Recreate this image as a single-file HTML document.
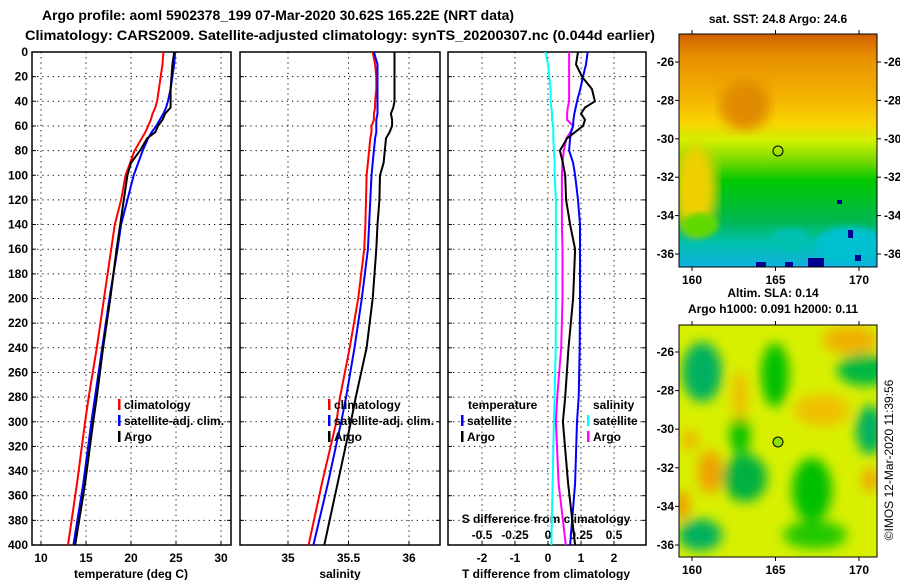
<!DOCTYPE html>
<html><head><meta charset="utf-8"><style>
html,body{margin:0;padding:0;background:#fff;}
svg{display:block;font-family:"Liberation Sans",Arial,sans-serif;}
</style></head><body>
<svg id="fig" width="900" height="580" viewBox="0 0 900 580">
<defs>
<linearGradient id="sstg" x1="0" y1="0" x2="0" y2="1">
<stop offset="0" stop-color="#d06000"/><stop offset="0.1" stop-color="#e89000"/>
<stop offset="0.28" stop-color="#f4b400"/><stop offset="0.38" stop-color="#f8d400"/>
<stop offset="0.46" stop-color="#d0f000"/><stop offset="0.55" stop-color="#70d800"/>
<stop offset="0.63" stop-color="#00c800"/><stop offset="0.8" stop-color="#00b850"/>
<stop offset="0.9" stop-color="#00c0b0"/><stop offset="1" stop-color="#10b0e0"/>
</linearGradient>
<filter id="bl"><feGaussianBlur stdDeviation="6"/></filter>
<filter id="bl2"><feGaussianBlur stdDeviation="3"/></filter>
<clipPath id="c1"><rect x="679" y="34" width="198" height="233"/></clipPath>
<clipPath id="c2"><rect x="679" y="325" width="198" height="232"/></clipPath>
</defs>
<text x="278" y="20" text-anchor="middle" font-size="14" font-weight="bold" textLength="472" lengthAdjust="spacingAndGlyphs">Argo profile: aoml 5902378_199 07-Mar-2020 30.62S 165.22E (NRT data)</text>
<text x="340" y="40" text-anchor="middle" font-size="14" font-weight="bold" textLength="630" lengthAdjust="spacingAndGlyphs">Climatology: CARS2009. Satellite-adjusted climatology: synTS_20200307.nc (0.044d earlier)</text>
<g id="plots"></g>
<g clip-path="url(#c1)">
<rect x="679" y="34" width="198" height="233" fill="url(#sstg)"/>
<ellipse cx="695" cy="190" rx="22" ry="45" fill="#f0d000" filter="url(#bl)"/>
<ellipse cx="745" cy="105" rx="25" ry="25" fill="#e08a00" filter="url(#bl)"/>
<ellipse cx="850" cy="245" rx="35" ry="18" fill="#00c0d0" filter="url(#bl2)"/>
<ellipse cx="790" cy="240" rx="20" ry="12" fill="#00c0b0" filter="url(#bl2)"/>
<ellipse cx="700" cy="225" rx="18" ry="12" fill="#60d800" filter="url(#bl2)"/>
<rect x="808" y="258" width="16" height="9" fill="#000090"/><rect x="756" y="262" width="10" height="5" fill="#000090"/><rect x="785" y="262" width="8" height="5" fill="#000090"/><rect x="848" y="230" width="5" height="8" fill="#000090"/><rect x="837" y="200" width="5" height="4" fill="#000090"/><rect x="855" y="255" width="6" height="6" fill="#000090"/>
</g>
<rect x="679" y="34" width="198" height="233" fill="none" stroke="#000"/>
<circle cx="778" cy="151" r="5" fill="none" stroke="#000"/>
<g clip-path="url(#c2)">
<rect x="679" y="325" width="198" height="232" fill="#d8f000"/>
<g filter="url(#bl)">
<ellipse cx="702" cy="372" rx="20" ry="30" fill="#00b060"/>
<ellipse cx="775" cy="375" rx="14" ry="32" fill="#00c000"/>
<ellipse cx="865" cy="370" rx="28" ry="16" fill="#00b840"/>
<ellipse cx="870" cy="430" rx="14" ry="25" fill="#00b060"/>
<ellipse cx="745" cy="478" rx="22" ry="24" fill="#00b040"/>
<ellipse cx="740" cy="435" rx="10" ry="20" fill="#00c000"/>
<ellipse cx="812" cy="490" rx="20" ry="32" fill="#00c000"/>
<ellipse cx="815" cy="535" rx="32" ry="14" fill="#20c800"/>
<ellipse cx="700" cy="535" rx="22" ry="16" fill="#00b060"/>
<ellipse cx="850" cy="340" rx="28" ry="14" fill="#f0b000"/>
<ellipse cx="822" cy="410" rx="28" ry="16" fill="#f0c000"/>
<ellipse cx="710" cy="472" rx="12" ry="22" fill="#f0a000"/>
<ellipse cx="740" cy="395" rx="7" ry="25" fill="#f0b800"/>
<ellipse cx="682" cy="505" rx="7" ry="15" fill="#f09000"/>
<ellipse cx="870" cy="480" rx="8" ry="12" fill="#f0a000"/>
<ellipse cx="690" cy="440" rx="8" ry="10" fill="#f0b000"/>
</g>
</g>
<rect x="679" y="325" width="198" height="232" fill="none" stroke="#000"/>
<circle cx="778" cy="442" r="5" fill="#90e000" stroke="#000"/>
<text x="778" y="23" text-anchor="middle" font-size="12" font-weight="bold">sat. SST: 24.8 Argo: 24.6</text>
<text x="773" y="297" text-anchor="middle" font-size="12" font-weight="bold">Altim. SLA: 0.14</text>
<text x="773" y="313" text-anchor="middle" font-size="12" font-weight="bold">Argo h1000: 0.091 h2000: 0.11</text>
<text transform="translate(893,460) rotate(-90)" text-anchor="middle" font-size="12">©IMOS 12-Mar-2020 11:39:56</text>
<g id="maps"></g>
</svg>
<script>
// ---- data ----
const depths = [0,10,20,30,40,45,50,55,60,65,70,80,90,100,120,140,160,200,240,280,300,350,400];
const tempClim = [23.6,23.5,23.3,23.1,22.9,22.7,22.4,22.2,21.9,21.6,21.2,20.4,19.9,19.4,18.9,18.2,17.8,17.0,16.2,15.3,14.9,14.0,13.0];
const tempSat  = [24.9,24.8,24.6,24.4,24.1,23.9,23.6,23.2,22.8,22.3,21.9,21.3,20.8,20.3,19.6,18.9,18.5,17.6,16.8,16.0,15.6,14.7,13.6];
const tempArgo = [24.8,24.6,24.5,24.4,24.4,24.4,23.8,23.5,23.0,22.7,21.8,21.0,20.0,19.6,19.2,18.8,18.4,17.7,16.9,16.2,15.8,14.9,13.8];
const salClim = [35.70,35.72,35.73,35.73,35.72,35.72,35.71,35.71,35.69,35.69,35.68,35.67,35.66,35.65,35.645,35.64,35.63,35.58,35.51,35.43,35.40,35.28,35.17];
const salSat  = [35.71,35.74,35.74,35.74,35.74,35.74,35.74,35.73,35.73,35.73,35.72,35.71,35.70,35.69,35.68,35.67,35.66,35.61,35.55,35.48,35.44,35.33,35.21];
const salArgo = [35.88,35.88,35.88,35.88,35.88,35.87,35.85,35.86,35.86,35.84,35.81,35.80,35.79,35.76,35.755,35.74,35.73,35.70,35.65,35.56,35.52,35.41,35.30];
const tdSat  = [1.2,1.15,1.06,0.98,0.88,0.84,0.8,0.77,0.76,0.7,0.67,0.64,0.76,0.82,0.91,0.97,0.97,0.97,0.96,0.93,0.88,0.82,0.67];
const tdArgo = [0.91,0.85,1.03,1.33,1.42,1.12,1.0,1.12,1.06,0.82,0.58,0.36,0.45,0.52,0.55,0.67,0.82,0.76,0.62,0.52,0.45,0.61,0.82];
const sdSat  = [-0.02,0.0,0.01,0.02,0.02,0.025,0.03,0.03,0.04,0.04,0.04,0.045,0.05,0.05,0.06,0.06,0.06,0.06,0.058,0.05,0.045,0.035,0.025];
const sdArgo = [0.16,0.16,0.16,0.16,0.16,0.15,0.145,0.145,0.19,0.17,0.14,0.12,0.11,0.105,0.105,0.105,0.11,0.11,0.10,0.07,0.06,0.08,0.135];
const depthTicks = [0,20,40,60,80,100,120,140,160,180,200,220,240,260,280,300,320,340,360,380,400];
const tempTicks = [10,15,20,25,30];
const salTicks = [35,35.5,36];
const tdTicks = [-2,-1,0,1,2];
const sdTicks = [-0.5,-0.25,0,0.25,0.5];
const sdTickLabels = ["-0.5","-0.25","0","0.25","0.5"];
const latTicks = [-26,-28,-30,-32,-34,-36];
const lonTicks = [160,165,170];

const NS="http://www.w3.org/2000/svg";
const Y0=52, Y1=545;
const yD = d => Y0 + d*(Y1-Y0)/400;
const xT = t => 41 + (t-10)*9.0;
const xS = s => 288 + (s-35)*121;
const xTD = t => 548 + t*33;
const xSD = s => 548 + s*132;
const g = document.getElementById('plots');
function el(tag, attrs, parent){const e=document.createElementNS(NS,tag);for(const k in attrs)e.setAttribute(k,attrs[k]);(parent||g).appendChild(e);return e;}
function txt(x,y,s,anchor,size,parent){const t=el('text',{x:x,y:y,'text-anchor':anchor||'middle','font-size':size||12,'font-weight':'bold'},parent);t.textContent=s;return t;}

const panels=[{x0:32,x1:231,name:'temperature'},{x0:240,x1:440,name:'salinity'},{x0:448,x1:646,name:'difference'}];
panels.forEach((p,i)=>{
  const pg=el('g',{});
  
  
  depthTicks.forEach(d=>{
    const l=el('line',{x1:p.x0,x2:p.x1,y1:yD(d),y2:yD(d),stroke:'#000','stroke-dasharray':'1.2,4'},pg);
    
    
    el('line',{x1:p.x0,x2:p.x0+4,y1:yD(d),y2:yD(d),stroke:'#000'},pg);
    el('line',{x1:p.x1-4,x2:p.x1,y1:yD(d),y2:yD(d),stroke:'#000'},pg);
  });
  let ticks = i==0?tempTicks:(i==1?salTicks:tdTicks);
  let fx = i==0?xT:(i==1?xS:xTD);
  ticks.forEach(t=>{
    el('line',{x1:fx(t),x2:fx(t),y1:Y0,y2:Y1,stroke:'#000','stroke-dasharray':'1.2,4'},pg);
    el('line',{x1:fx(t),x2:fx(t),y1:Y1,y2:Y1-4,stroke:'#000'},pg);
    const lb=txt(fx(t),562,String(t),'middle',12,pg);
    
    
  });
  const fr=el('rect',{x:p.x0,y:Y0,width:p.x1-p.x0,height:Y1-Y0,fill:'none',stroke:'#000','stroke-width':1.5},pg);
  
  
});
depthTicks.forEach(d=>{
  const t=txt(28,yD(d)+4,String(d),'end',12);
  
  
});
let a=txt(131,578,'temperature (deg C)','middle',12);

a=txt(340,578,'salinity','middle',12);

a=txt(546,578,'T difference from climatology','middle',12);

a=txt(546,523,'S difference from climatology','middle',12);

sdTicks.forEach((s,i)=>{
  const t=txt(xSD(s),539,sdTickLabels[i],'middle',12);
  
  
});

function line(xs,fx,color,w,name){
  const pts=depths.map((d,i)=>fx(xs[i]).toFixed(1)+','+yD(d).toFixed(1)).join(' ');
  const pl=el('polyline',{points:pts,fill:'none',stroke:color,'stroke-width':w});
  
  
}
line(tempClim,xT,'#f00',2,'temperature-climatology-line');
line(tempSat,xT,'#00f',2,'temperature-satellite-line');
line(tempArgo,xT,'#000',2,'temperature-argo-line');
line(salClim,xS,'#f00',2,'salinity-climatology-line');
line(salSat,xS,'#00f',2,'salinity-satellite-line');
line(salArgo,xS,'#000',2,'salinity-argo-line');
line(sdSat,xSD,'#00ffff',2,'s-diff-satellite-line');
line(sdArgo,xSD,'#ff00ff',2,'s-diff-argo-line');
line(tdSat,xTD,'#00f',2,'t-diff-satellite-line');
line(tdArgo,xTD,'#000',2,'t-diff-argo-line');

function legend(x,y,color,label,name){
  const lg=el('g',{});
  
  
  el('rect',{x:x,y:y-10,width:2.5,height:11,fill:color},lg);
  txt(x+6,y,label,'start',12,lg);
}
legend(118,409,'#f00','climatology','legend-climatology');
legend(118,425,'#00f','satellite-adj. clim.','legend-satellite-adj');
legend(118,441,'#000','Argo','legend-argo');
legend(328,409,'#f00','climatology','legend-sal-climatology');
legend(328,425,'#00f','satellite-adj. clim.','legend-sal-satellite-adj');
legend(328,441,'#000','Argo','legend-sal-argo');
a=txt(468,409,'temperature','start',12);

legend(461,425,'#00f','satellite','legend-t-satellite');
legend(461,441,'#000','Argo','legend-t-argo');
a=txt(593,409,'salinity','start',12);

legend(587,425,'#00ffff','satellite','legend-s-satellite');
legend(587,441,'#ff00ff','Argo','legend-s-argo');

// map axes
const mg=document.getElementById('maps');
const lonX = l => 692 + (l-160)*16.7;
[[34,267,62,254,true],[325,557,352,545,false]].forEach((m,k)=>{
  const yL = lat => m[2] + (-26-lat)*(m[3]-m[2])/10;
  latTicks.forEach(lat=>{
    el('line',{x1:679,x2:675,y1:yL(lat),y2:yL(lat),stroke:'#000'},mg);
    const t=txt(674,yL(lat)+4,String(lat),'end',12,mg);
    
    
    if(m[4]){
      el('line',{x1:877,x2:881,y1:yL(lat),y2:yL(lat),stroke:'#000'},mg);
      const r=txt(884,yL(lat)+4,String(lat),'start',12,mg);
      
      
    }
  });
  lonTicks.forEach(lon=>{
    el('line',{x1:lonX(lon),x2:lonX(lon),y1:m[0],y2:m[0]-4,stroke:'#000'},mg);
    el('line',{x1:lonX(lon),x2:lonX(lon),y1:m[1],y2:m[1]+4,stroke:'#000'},mg);
    const t=txt(lonX(lon),m[1]+17,String(lon),'middle',12,mg);
    
    
  });
});
</script>
</body></html>
